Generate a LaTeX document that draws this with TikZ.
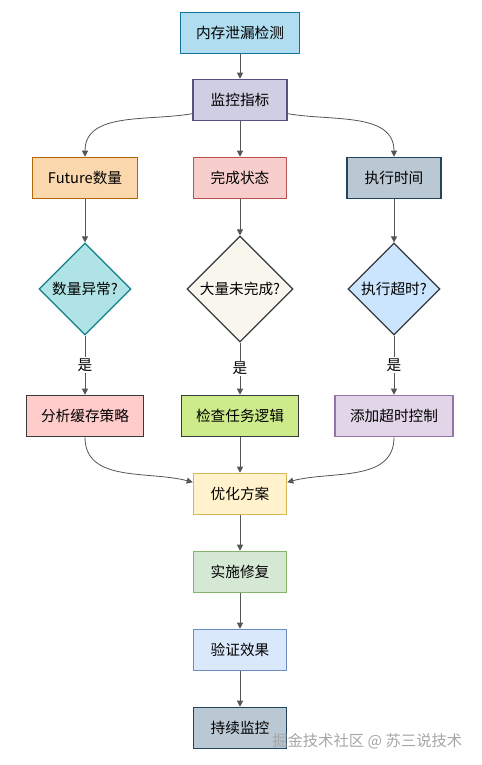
\documentclass[tikz,border=0pt]{standalone}
\usepackage{fontspec}
\setmainfont{Noto Sans CJK SC}
\usetikzlibrary{shapes.geometric,arrows.meta}

\definecolor{fillA}{HTML}{B1DDF0}\definecolor{lineA}{HTML}{10739E}
\definecolor{fillB}{HTML}{D0CEE2}\definecolor{lineB}{HTML}{56517E}
\definecolor{fillC}{HTML}{FAD7AC}\definecolor{lineC}{HTML}{B46504}
\definecolor{fillD}{HTML}{F8CECC}\definecolor{lineD}{HTML}{B85450}
\definecolor{fillE}{HTML}{BAC8D3}\definecolor{lineE}{HTML}{23445D}
\definecolor{fillF}{HTML}{B0E3E6}\definecolor{lineF}{HTML}{0E8088}
\definecolor{fillG}{HTML}{F9F7ED}\definecolor{lineG}{HTML}{36393D}
\definecolor{fillH}{HTML}{CCE5FF}
\definecolor{fillI}{HTML}{FFCCCC}
\definecolor{fillJ}{HTML}{CDEB8B}
\definecolor{fillK}{HTML}{E1D5E7}\definecolor{lineK}{HTML}{9673A6}
\definecolor{fillL}{HTML}{FFF2CC}\definecolor{lineL}{HTML}{D6B656}
\definecolor{fillM}{HTML}{D5E8D4}\definecolor{lineM}{HTML}{82B366}
\definecolor{fillN}{HTML}{DAE8FC}\definecolor{lineN}{HTML}{6C8EBF}
\definecolor{wire}{HTML}{555555}

\tikzset{
  box/.style={draw, line width=0.9pt, minimum height=31pt, inner sep=2pt, font=\fontsize{11}{13}\selectfont},
  choice/.style={diamond, aspect=1, draw, line width=0.9pt, inner sep=0pt, font=\fontsize{11}{13}\selectfont},
  link/.style={draw=wire, line width=0.6pt, -{Triangle[width=4.5pt,length=4.5pt]}},
  yes/.style={fill=white, inner sep=1pt, font=\fontsize{11}{13}\selectfont}
}

\begin{document}
\begin{tikzpicture}[x=0.75pt,y=-0.75pt]
	\useasboundingbox (0,0) rectangle (482,765);
	% top
	\node[box, fill=fillA, draw=lineA, minimum width=89pt] (leak) at (240,33) {内存泄漏检测};
	\node[box, fill=fillB, draw=lineB, minimum width=70.5pt] (mon) at (240,100) {监控指标};
	% three metrics
	\node[box, fill=fillC, draw=lineC, minimum width=79pt] (num) at (85,178) {Future数量};
	\node[box, fill=fillD, draw=lineD, minimum width=70pt] (done) at (240,178) {完成状态};
	\node[box, fill=fillE, draw=lineE, minimum width=70.5pt] (time) at (394,178) {执行时间};
	% checks
	\node[choice, fill=fillF, draw=lineF, minimum size=69pt] (numq) at (85,289) {数量异常?};
	\node[choice, fill=fillG, draw=lineG, minimum size=79.5pt] (doneq) at (240,289) {大量未完成?};
	\node[choice, fill=fillH, draw=lineG, minimum size=69pt] (timeq) at (394,289) {执行超时?};
	% actions
	\node[box, fill=fillI, draw=lineG, minimum width=88pt] (cache) at (85,416) {分析缓存策略};
	\node[box, fill=fillJ, draw=lineG, minimum width=88pt] (task) at (240,416) {检查任务逻辑};
	\node[box, fill=fillK, draw=lineK, minimum width=88.5pt] (tout) at (394,416) {添加超时控制};
	% bottom chain
	\node[box, fill=fillL, draw=lineL, minimum width=70pt] (opt) at (240,494) {优化方案};
	\node[box, fill=fillM, draw=lineM, minimum width=70pt] (fix) at (240,572) {实施修复};
	\node[box, fill=fillN, draw=lineN, minimum width=70pt] (check) at (240,650) {验证效果};
	\node[box, fill=fillE, draw=lineE, minimum width=70pt] (keep) at (240,728) {持续监控};

	\draw[link] (leak) -- (mon);
	\draw[link] (mon.196) to[out=190,in=90] (num.north);
	\draw[link] (mon) -- (done);
	\draw[link] (mon.-16) to[out=-10,in=90] (time.north);
	\draw[link] (num) -- (numq);
	\draw[link] (done) -- (doneq);
	\draw[link] (time) -- (timeq);
	\draw[link] (numq) -- node[yes] {是} (cache);
	\draw[link] (doneq) -- node[yes] {是} (task);
	\draw[link] (timeq) -- node[yes] {是} (tout);
	\draw[link] (cache.south) to[out=-90,in=165] (opt.166);
	\draw[link] (task) -- (opt);
	\draw[link] (tout.south) to[out=-90,in=15] (opt.14);
	\draw[link] (opt) -- (fix);
	\draw[link] (fix) -- (check);
	\draw[link] (check) -- (keep);

	\node[anchor=east, text=gray!70, font=\fontsize{11.5}{13}\selectfont] (mark) at (467,741) {掘金技术社区 @ 苏三说技术};
\end{tikzpicture}
\end{document}
